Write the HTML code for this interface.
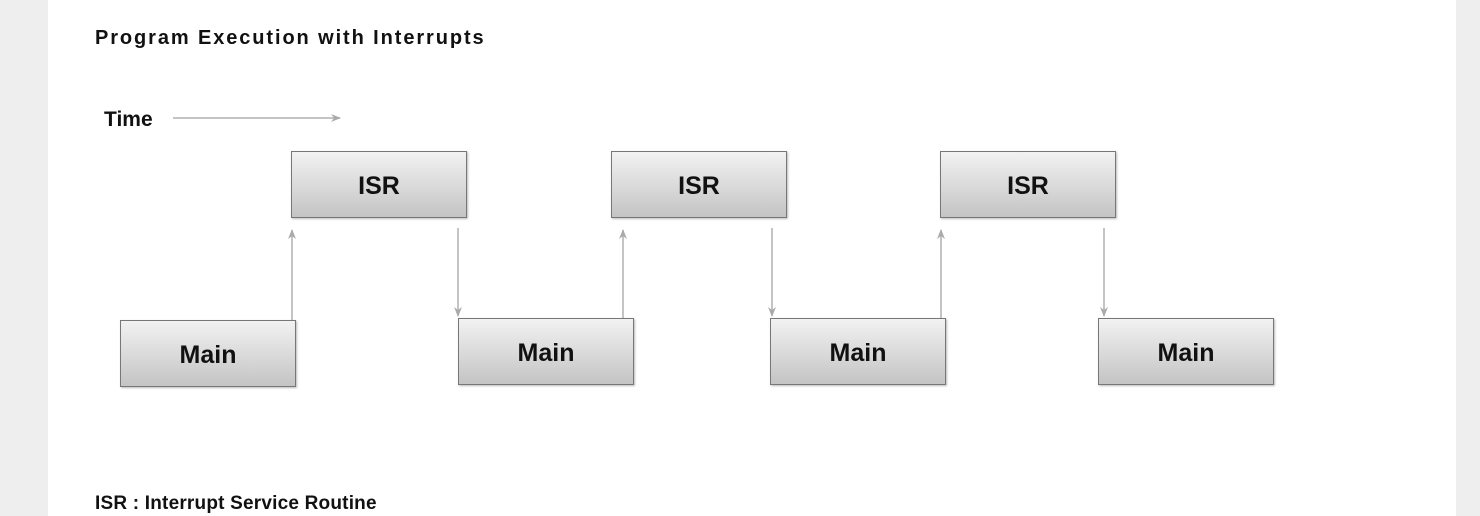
<!DOCTYPE html>
<html><head><style>
body{margin:0;width:1480px;height:516px;background:#eeeeee;font-family:"Liberation Sans",Arial,sans-serif;overflow:hidden}
#w{position:absolute;left:48px;top:0;width:1408px;height:516px;background:#fff}
.t{position:absolute;font-weight:bold;color:#111;white-space:nowrap;line-height:1}
.b{position:absolute;box-sizing:border-box;width:176px;height:67px;border:1px solid #777;background:linear-gradient(#f2f2f2,#c4c4c4);box-shadow:1px 1px 2px #bbb;display:flex;align-items:center;justify-content:center;font-weight:bold;font-size:25px;color:#111;padding-top:3px}
</style></head><body>
<div id="w"></div>
<div class="t" style="left:95px;top:28px;font-size:20px;letter-spacing:1.9px">Program Execution with Interrupts</div>
<div class="t" style="left:104px;top:109px;font-size:21px">Time</div>
<div class="t" style="left:95px;top:494px;font-size:19px;letter-spacing:0.2px">ISR : Interrupt Service Routine</div>
<svg style="position:absolute;left:0;top:0" width="1480" height="516">
<defs><marker id="a" markerWidth="10" markerHeight="10" refX="9" refY="5" orient="auto" markerUnits="userSpaceOnUse"><path d="M0,1 L10,5 L0,9 L3,5z" fill="#aaa"/></marker></defs>
<g stroke="#b0b0b0" stroke-width="1.5" fill="none" marker-end="url(#a)">
<line x1="173" y1="118" x2="340" y2="118"/>
<line x1="292" y1="320" x2="292" y2="230"/>
<line x1="458" y1="228" x2="458" y2="316"/>
<line x1="623" y1="318" x2="623" y2="230"/>
<line x1="772" y1="228" x2="772" y2="316"/>
<line x1="941" y1="318" x2="941" y2="230"/>
<line x1="1104" y1="228" x2="1104" y2="316"/>
</g></svg>
<div class="b" style="left:291px;top:151px">ISR</div>
<div class="b" style="left:611px;top:151px">ISR</div>
<div class="b" style="left:940px;top:151px">ISR</div>
<div class="b" style="left:120px;top:320px">Main</div>
<div class="b" style="left:458px;top:318px">Main</div>
<div class="b" style="left:770px;top:318px">Main</div>
<div class="b" style="left:1098px;top:318px">Main</div>
</body></html>
